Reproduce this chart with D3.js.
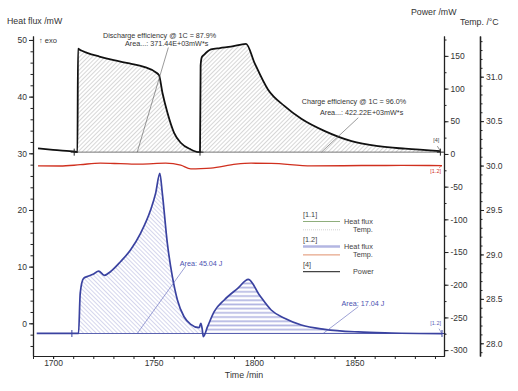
<!DOCTYPE html>
<html>
<head>
<meta charset="utf-8">
<script src="https://cdn.jsdelivr.net/npm/d3@7"></script>
<style>
  body { margin: 0; background: #fff; }
  svg { display: block; font-family: Arial, "Liberation Sans", sans-serif; }
  .axis text { font-size: 8.5px; fill: #333; }
  .axis path, .axis line { stroke: #222; }
</style>
</head>
<body>
<div id="chart"></div>
<script>
//////// DATA ////////
// power (black), mW
var powerTime  = [1692.5, 1700, 1711, 1712.1, 1712.4, 1713.5, 1716.9, 1723, 1730.2, 1738, 1745.2, 1751, 1752.7, 1754.4, 1756.9, 1760.2, 1763.5, 1768.5, 1772.7, 1773.1, 1773.4, 1774, 1775.2, 1778.5, 1783, 1788.5, 1796, 1800.2, 1806.9, 1815.2, 1823.5, 1835.2, 1848.5, 1861.9, 1875.2, 1892.7];
var powerValue = [8.4, 6.1, 3.4, 3.0, 161, 159, 154.7, 149, 143.4, 138.4, 133.3, 125, 120.5, 93.6, 63, 32.4, 17.1, 6.9, 2.8, 3.0, 135, 148, 152, 159.8, 162, 164, 168.5, 139.4, 98.6, 73.1, 53.8, 34.9, 19.6, 11.9, 8, 4.3];
var powerBase = 2.8;
var powerBaseRange = [1710.5, 1892.7];
var powerCuts = [1712.1, 1773.1, 1892.7];

// heat flux [1.2] (blue), mW
var hfTime  = [1691.85, 1709, 1712.65, 1713.5, 1715.15, 1717.65, 1720.15, 1722.65, 1725.5, 1728.5, 1733.5, 1738.5, 1743.5, 1748.5, 1751, 1753.1, 1754.35, 1756.85, 1759.35, 1761.85, 1765.15, 1768.5, 1772.65, 1773.5, 1774.1, 1774.75, 1776.85, 1780.15, 1785.15, 1791.85, 1797.15, 1802.65, 1808.5, 1815.15, 1823.5, 1835.15, 1851.85, 1868.5, 1893.5];
var hfValue = [-1.76, -1.78, -1.78, 5.34, 7.94, 8.34, 8.7, 9.22, 8.47, 9.1, 10.86, 12.93, 15.87, 19.98, 22.93, 26.46, 22.93, 14.1, 8.22, 4.11, 1.16, -0.18, -0.78, 0, -0.8, -2.36, -0.6, 2.05, 4.11, 6.17, 7.76, 4.99, 2.35, 0.88, -0.3, -1.06, -1.53, -1.71, -1.83];
var hfBase = -1.8;
var hfBaseRange = [1709.35, 1893.5];
var hfCuts = [1712.65, 1774.75, 1893.5];

// temperature [1.2] (red), °C
var tempTime  = [1692.5, 1703.5, 1713.5, 1723.5, 1733.5, 1743.5, 1756, 1763.5, 1768.5, 1773.5, 1778.5, 1791, 1798.5, 1808.5, 1828.5, 1853.5, 1873.5, 1893.5];
var tempValue = [29.997, 29.995, 30.01, 30.027, 30.022, 30.016, 30.027, 30.005, 29.963, 29.965, 29.971, 30.016, 30.027, 30.025, 29.997, 30.0, 30.002, 29.999];

// ticks
var timeTicks = [1700, 1750, 1800, 1850];
var hfTicks = [0, 10, 20, 30, 40, 50];
var powerTicks = [-300, -250, -200, -150, -100, -50, 0, 50, 100, 150];
var tempTicks = [28.0, 28.5, 29.0, 29.5, 30.0, 30.5, 31.0];

// annotations: [time, value, text]
var powerNotes = [
  [1753, 177.4, "Discharge efficiency @ 1C = 87.9%"],
  [1756.5, 165, "Area...: 371.44E+03mW*s"],
  [1849.7, 77, "Charge efficiency @ 1C = 96.0%"],
  [1853.5, 59, "Area...: 422.22E+03mW*s"]
];
var powerLeaders = [[1757.35, 162.8, 1741.85, 2.8], [1851.85, 55.4, 1833.5, 2.8]];
var hfNotes = [[1763, 10.2, "Area: 45.04 J"], [1843.5, 3.0, "Area: 17.04 J"]];
var hfLeaders = [[1766, 10.1, 1741.85, -1.8], [1851.85, 2.93, 1834.35, -1.8]];

var legendItems = [
  {tag: "[1.1]", rows: [["Heat flux", "#8fae7c", 1.2, null], ["Temp.", "#c8c8c8", 0.8, "1,1"]]},
  {tag: "[1.2]", rows: [["Heat flux", "#b3b6e2", 2.5, null], ["Temp.", "#e0906c", 1, null]]},
  {tag: "[4]", rows: [["Power", "#444", 1.2, null]]}
];

//////// CANVAS ////////
var W = 518, H = 391;
var svg = d3.select("#chart").append("svg").attr("width", W).attr("height", H);

var x = d3.scaleLinear().domain([1690, 1894.5]).range([33, 444]);
var yHF = d3.scaleLinear().domain([-5.77, 50.7]).range([356, 36]);
var yP = d3.scaleLinear().domain([-309, 180.4]).range([356, 36]);
var yT = d3.scaleLinear().domain([27.857, 31.458]).range([356, 36]);

// hatch patterns
var defs = svg.append("defs");
function hatch(id, angle, size, color, width) {
  defs.append("pattern")
      .attr("id", id)
      .attr("patternUnits", "userSpaceOnUse")
      .attr("width", size).attr("height", size)
      .attr("patternTransform", "rotate(" + angle + ")")
    .append("line")
      .attr("x1", 0).attr("y1", 0).attr("x2", 0).attr("y2", size)
      .attr("stroke", color).attr("stroke-width", width);
}
hatch("hGray", 45, 3, "#8c8c8c", 0.7);
hatch("hBlue", -45, 3, "#8589cc", 0.7);
defs.append("pattern")
    .attr("id", "hHoriz")
    .attr("patternUnits", "userSpaceOnUse")
    .attr("width", 8).attr("height", 4.2)
  .append("rect")
    .attr("x", 0).attr("y", 1.2).attr("width", 8).attr("height", 1.7)
    .attr("fill", "#b3b6e2");

var powerData = powerTime.map(function(t, i) { return [t, powerValue[i]]; });
var hfData = hfTime.map(function(t, i) { return [t, hfValue[i]]; });
var tempData = tempTime.map(function(t, i) { return [t, tempValue[i]]; });

function segment(data, a, b) {
  return data.filter(function(d) { return d[0] >= a && d[0] <= b; });
}

//////// AREAS ////////
var pArea = d3.area().curve(d3.curveMonotoneX)
    .x(function(d) { return x(d[0]); })
    .y0(yP(powerBase))
    .y1(function(d) { return yP(d[1]); });
var hArea = d3.area().curve(d3.curveMonotoneX)
    .x(function(d) { return x(d[0]); })
    .y0(yHF(hfBase))
    .y1(function(d) { return yHF(d[1]); });

svg.append("path").attr("d", pArea(segment(powerData, powerCuts[0], powerCuts[1]))).attr("fill", "url(#hGray)");
svg.append("path").attr("d", pArea(segment(powerData, powerCuts[1], powerCuts[2]))).attr("fill", "url(#hGray)");
svg.append("path").attr("d", hArea(segment(hfData, hfCuts[0], hfCuts[1]))).attr("fill", "url(#hBlue)");
svg.append("path").attr("d", hArea(segment(hfData, hfCuts[1], hfCuts[2]))).attr("fill", "url(#hHoriz)");

// baselines
svg.append("line")
    .attr("x1", x(powerBaseRange[0])).attr("x2", x(powerBaseRange[1]))
    .attr("y1", yP(powerBase)).attr("y2", yP(powerBase))
    .attr("stroke", "#555").attr("stroke-width", 0.8);
svg.append("line")
    .attr("x1", x(hfBaseRange[0])).attr("x2", x(hfBaseRange[1]))
    .attr("y1", yHF(hfBase)).attr("y2", yHF(hfBase))
    .attr("stroke", "#4a52a8").attr("stroke-width", 0.9);

//////// CURVES ////////
svg.append("path")
    .attr("d", d3.line().curve(d3.curveMonotoneX).x(function(d) { return x(d[0]); }).y(function(d) { return yT(d[1]); })(tempData))
    .attr("fill", "none").attr("stroke", "#d0301f").attr("stroke-width", 1.4);
svg.append("path")
    .attr("d", d3.line().curve(d3.curveMonotoneX).x(function(d) { return x(d[0]); }).y(function(d) { return yP(d[1]); })(powerData))
    .attr("fill", "none").attr("stroke", "#111").attr("stroke-width", 1.8);
svg.append("path")
    .attr("d", d3.line().curve(d3.curveMonotoneX).x(function(d) { return x(d[0]); }).y(function(d) { return yHF(d[1]); })(hfData))
    .attr("fill", "none").attr("stroke", "#3a42a0").attr("stroke-width", 1.7);

// baseline limit crosses
function cross(cx, cy, color) {
  svg.append("path")
      .attr("d", "M" + (cx - 3.5) + "," + cy + "H" + (cx + 3.5) + "M" + cx + "," + (cy - 3.5) + "V" + (cy + 3.5))
      .attr("stroke", color).attr("stroke-width", 1);
}
cross(x(powerBaseRange[0]), yP(powerBase), "#222");
cross(x(powerCuts[1]), yP(powerBase), "#222");
cross(x(powerBaseRange[1]), yP(powerBase), "#222");
cross(x(hfBaseRange[0]), yHF(hfBase), "#3a42a0");
cross(x(hfBaseRange[1]), yHF(hfBase), "#3a42a0");

//////// ANNOTATIONS ////////
powerLeaders.forEach(function(l) {
  svg.append("line")
      .attr("x1", x(l[0])).attr("y1", yP(l[1])).attr("x2", x(l[2])).attr("y2", yP(l[3]))
      .attr("stroke", "#555").attr("stroke-width", 0.6);
});
hfLeaders.forEach(function(l) {
  svg.append("line")
      .attr("x1", x(l[0])).attr("y1", yHF(l[1])).attr("x2", x(l[2])).attr("y2", yHF(l[3]))
      .attr("stroke", "#5a61b8").attr("stroke-width", 0.6);
});
powerNotes.forEach(function(n) {
  svg.append("text")
      .attr("x", x(n[0])).attr("y", yP(n[1]))
      .attr("text-anchor", "middle")
      .attr("font-size", "7.2px").attr("fill", "#333")
      .text(n[2]);
});
hfNotes.forEach(function(n) {
  svg.append("text")
      .attr("x", x(n[0])).attr("y", yHF(n[1]))
      .attr("font-size", "7.2px").attr("fill", "#4a52b0")
      .text(n[2]);
});

// curve tags at right end
var tags = [
  [x(1892.7), yP(4.3), "[4]", "#444", -9],
  [x(1893.5), yT(29.999), "[1.2]", "#d0301f", 7],
  [x(1893.5), yHF(-1.83), "[1.2]", "#5a61b8", -9]
];
tags.forEach(function(t) {
  svg.append("text")
      .attr("x", t[0] - 1).attr("y", t[1] + t[4])
      .attr("text-anchor", "end")
      .attr("font-size", "5.5px").attr("fill", t[3])
      .text(t[2]);
  svg.append("line")
      .attr("x1", t[0] - 3).attr("y1", t[1] + (t[4] < 0 ? -5 : 2))
      .attr("x2", t[0]).attr("y2", t[1])
      .attr("stroke", t[3]).attr("stroke-width", 0.6);
});

//////// AXES ////////
function noLabel() { return ""; }

svg.append("g").attr("class", "axis").attr("transform", "translate(33,0)")
    .call(d3.axisLeft(yHF).tickValues(d3.range(-4, 51, 2)).tickSize(2.5).tickSizeOuter(0).tickFormat(noLabel));
svg.append("g").attr("class", "axis").attr("transform", "translate(33,0)")
    .call(d3.axisLeft(yHF).tickValues(hfTicks).tickSize(4).tickSizeOuter(0).tickPadding(2).tickFormat(function(d) { return String(d); }))
    .select(".domain").attr("stroke-width", 1.3);

svg.append("g").attr("class", "axis").attr("transform", "translate(0,356)")
    .call(d3.axisBottom(x).tickValues(d3.range(1690, 1894, 10)).tickSize(3).tickSizeOuter(0).tickFormat(noLabel));
svg.append("g").attr("class", "axis").attr("transform", "translate(0,356)")
    .call(d3.axisBottom(x).tickValues(timeTicks).tickSize(3).tickSizeOuter(0).tickPadding(1).tickFormat(function(d) { return String(d); }))
    .select(".domain").attr("stroke-width", 1.2);

svg.append("g").attr("class", "axis").attr("transform", "translate(444,0)")
    .call(d3.axisRight(yP).tickValues(d3.range(-300, 176, 25)).tickSize(2.5).tickSizeOuter(0).tickFormat(noLabel));
svg.append("g").attr("class", "axis").attr("transform", "translate(444,0)")
    .call(d3.axisRight(yP).tickValues(powerTicks).tickSize(4.5).tickSizeOuter(0).tickPadding(2).tickFormat(function(d) { return String(d); }))
    .select(".domain").attr("stroke-width", 1.3);

svg.append("g").attr("class", "axis").attr("transform", "translate(480,0)")
    .call(d3.axisRight(yT).tickValues(d3.range(27.9, 31.45, 0.1)).tickSize(2.5).tickSizeOuter(0).tickFormat(noLabel));
svg.append("g").attr("class", "axis").attr("transform", "translate(480,0)")
    .call(d3.axisRight(yT).tickValues(tempTicks).tickSize(4).tickSizeOuter(0).tickPadding(2).tickFormat(d3.format(".1f")))
    .select(".domain").attr("stroke-width", 1.6);

// axis titles
svg.append("text").attr("x", 7).attr("y", 24).attr("font-size", "8.8px").attr("fill", "#333").text("Heat flux /mW");
svg.append("text").attr("x", 411).attr("y", 15).attr("font-size", "8.8px").attr("fill", "#333").text("Power /mW");
svg.append("text").attr("x", 460).attr("y", 25).attr("font-size", "8.8px").attr("fill", "#333").text("Temp. /°C");
svg.append("text").attr("x", 244).attr("y", 377.5).attr("text-anchor", "middle").attr("font-size", "8.8px").attr("fill", "#333").text("Time /min");
svg.append("text").attr("x", 39).attr("y", 42.5).attr("font-size", "7.5px").attr("fill", "#333").text("\u2191 exo");

//////// LEGEND ////////
var ly = 217;
legendItems.forEach(function(item) {
  svg.append("text").attr("x", 303).attr("y", ly).attr("font-size", "7.3px").attr("fill", "#444").text(item.tag);
  ly += 6.5;
  item.rows.forEach(function(r, i) {
    svg.append("line")
        .attr("x1", 303).attr("x2", 340).attr("y1", ly - 2).attr("y2", ly - 2)
        .attr("stroke", r[1]).attr("stroke-width", r[2])
        .attr("stroke-dasharray", r[3]);
    svg.append("text")
        .attr("x", r[0] === "Heat flux" ? 344 : 353).attr("y", ly + 0.5)
        .attr("font-size", "7.3px").attr("fill", "#444").text(r[0]);
    ly += 8.3;
  });
  ly += 2;
});
</script>
</body>
</html>
